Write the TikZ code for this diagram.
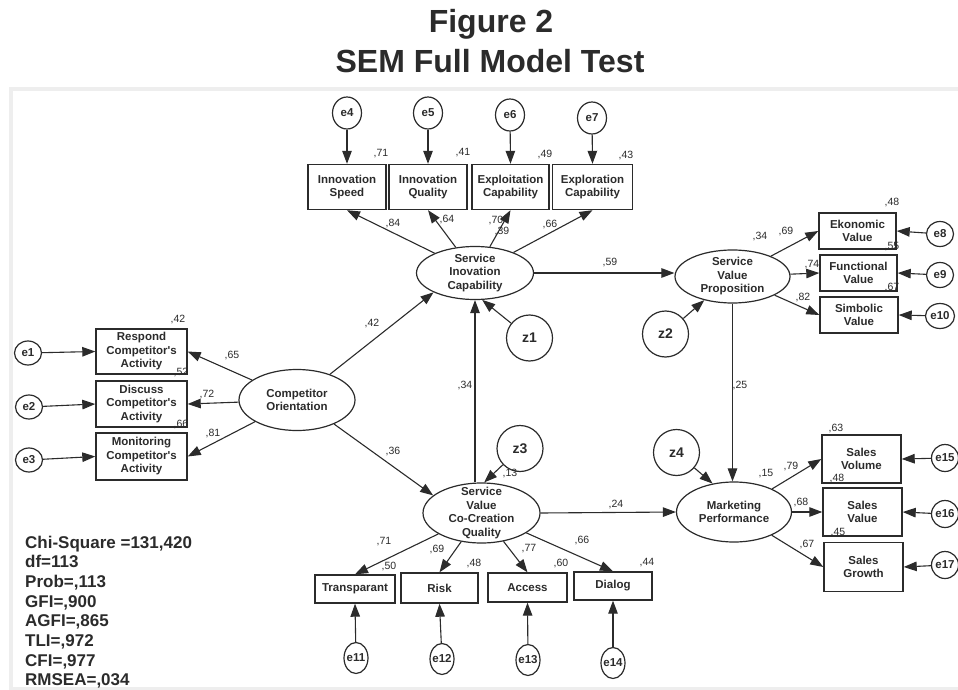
\documentclass[tikz,border=0pt]{standalone}
\usepackage{fontspec}
\setmainfont{Liberation Sans}
\usetikzlibrary{shapes.geometric,arrows.meta}

\definecolor{ink}{HTML}{2B2B2B}
\definecolor{frame}{HTML}{EEEEEE}

\tikzset{
  obs/.style={draw=ink, line width=1.4pt, rectangle, inner sep=0pt, align=center, text=ink,
    font=\fontsize{11.5}{13.5}\selectfont\bfseries},
  ltxt/.style={align=center, inner sep=0pt, text=ink, font=\fontsize{11.5}{13.5}\selectfont\bfseries},
  lat/.style={draw=ink, line width=1.2pt, ellipse, inner sep=0pt, label={[ltxt]center:#1}},
  err/.style={draw=ink, line width=1.2pt, ellipse, inner sep=0pt, minimum width=27pt, minimum height=25pt,
    label={[ltxt]center:#1}},
  dist/.style={draw=ink, line width=1.2pt, circle, minimum size=46pt, inner sep=0pt, text=ink,
    font=\fontsize{14}{16}\selectfont\bfseries},
  coef/.style={inner sep=0pt, text=ink, font=\fontsize{10.5}{12}\selectfont},
  arr/.style={ink, line width=1.1pt, -{Triangle[length=13pt,width=9.5pt]}},
}

\begin{document}
\begin{tikzpicture}[x=1pt, y=-1pt]
\useasboundingbox (0,0) rectangle (958,690);

\draw[frame, line width=4pt] (11,700) -- (11,89) -- (970,89);
\draw[frame, line width=3pt] (11,688.5) -- (970,688.5);

\node[anchor=base, font=\fontsize{32}{36}\selectfont\bfseries, text=ink] (fig) at (491,33) {Figure 2};
\node[anchor=base, font=\fontsize{32}{36}\selectfont\bfseries, text=ink] (title) at (490,73) {SEM Full Model Test};

% latent variables
\node[lat={Competitor\\Orientation}, minimum width=116pt, minimum height=61pt] (co) at (297,400) {};
\node[lat={Service\\Inovation\\Capability}, minimum width=117pt, minimum height=53pt] (sic) at (475,273) {};
\node[lat={Service\\Value\\Proposition}, minimum width=115pt, minimum height=53pt] (svp) at (732.5,276.5) {};
\node[lat={Service\\Value\\Co-Creation\\Quality}, minimum width=117pt, minimum height=60pt] (svq) at (481.5,513) {};
\node[lat={Marketing\\Performance}, minimum width=115pt, minimum height=60pt] (mp) at (734,512) {};

% indicators
\node[obs, minimum width=91pt, minimum height=45pt] (resp) at (141.5,351.5) {Respond\\Competitor\textquotesingle s\\Activity};
\node[obs, minimum width=91pt, minimum height=46pt] (disc) at (141.5,404) {Discuss\\Competitor\textquotesingle s\\Activity};
\node[obs, minimum width=91pt, minimum height=47pt] (mon) at (141.5,456.5) {Monitoring\\Competitor\textquotesingle s\\Activity};

\node[obs, minimum width=78pt, minimum height=45pt] (is) at (347,187) {Innovation\\Speed};
\node[obs, minimum width=78pt, minimum height=45pt] (iq) at (428,187) {Innovation\\Quality};
\node[obs, minimum width=77pt, minimum height=45pt] (ec) at (510.5,187) {Exploitation\\Capability};
\node[obs, minimum width=80pt, minimum height=45pt] (er) at (592.5,187) {Exploration\\Capability};

\node[obs, minimum width=77pt, minimum height=36pt] (eko) at (857.5,231) {Ekonomic\\Value};
\node[obs, minimum width=77pt, minimum height=36pt] (fun) at (858.5,273) {Functional\\Value};
\node[obs, minimum width=78pt, minimum height=36pt] (sim) at (859,315) {Simbolic\\Value};

\node[obs, minimum width=79pt, minimum height=48pt] (svol) at (861.5,459) {Sales\\Volume};
\node[obs, minimum width=79pt, minimum height=48pt] (sval) at (862.5,512) {Sales\\Value};
\node[obs, minimum width=79pt, minimum height=49pt] (sgr) at (863.5,567) {Sales\\Growth};

\node[obs, minimum width=80pt, minimum height=28pt] (tra) at (355,589) {Transparant};
\node[obs, minimum width=77pt, minimum height=30pt] (risk) at (439.5,588) {Risk};
\node[obs, minimum width=79pt, minimum height=29pt] (acc) at (527.5,587.5) {Access};
\node[obs, minimum width=78pt, minimum height=28pt] (dia) at (613,586) {Dialog};

% errors and disturbances
\node[err=e1, minimum height=24pt] (e1) at (28,353) {};
\node[err=e2, minimum height=24pt] (e2) at (29,407) {};
\node[err=e3, minimum height=24pt] (e3) at (29,460) {};
\node[err=e4, minimum width=29pt, minimum height=32pt] (e4) at (347,113) {};
\node[err=e5, minimum width=29pt, minimum height=32pt] (e5) at (428,113) {};
\node[err=e6, minimum width=29pt, minimum height=32pt] (e6) at (510,115) {};
\node[err=e7, minimum width=29pt, minimum height=32pt] (e7) at (592,118) {};
\node[err=e8] (e8) at (940,234) {};
\node[err=e9] (e9) at (940,275) {};
\node[err=e10, minimum width=29pt] (e10) at (940,316) {};
\node[err=e11, minimum width=24pt, minimum height=31pt] (e11) at (356,658) {};
\node[err=e12, minimum width=24pt, minimum height=31pt] (e12) at (442,659) {};
\node[err=e13, minimum width=24pt, minimum height=31pt] (e13) at (528,660) {};
\node[err=e14, minimum width=24pt, minimum height=31pt] (e14) at (613,663) {};
\node[err=e15, minimum height=27pt] (e15) at (945,458) {};
\node[err=e16, minimum height=27pt] (e16) at (945,514) {};
\node[err=e17, minimum height=27pt] (e17) at (945,565) {};

\node[dist] (z1) at (529.5,338) {z1};
\node[dist] (z2) at (665.5,334) {z2};
\node[dist] (z3) at (520,448.5) {z3};
\node[dist] (z4) at (676.5,452.5) {z4};

% paths
\draw[arr] (e1) -- (resp.west);
\draw[arr] (e2) -- (disc.west);
\draw[arr] (e3) -- (mon.west);
\draw[arr] (co) -- (resp.east);
\draw[arr] (co) -- (disc.east);
\draw[arr] (co) -- (mon.east);

\draw[arr] (e4) -- (is.north);
\draw[arr] (e5) -- (iq.north);
\draw[arr] (e6) -- (ec.north);
\draw[arr] (e7) -- (er.north);
\draw[arr] (sic) -- (is.south);
\draw[arr] (sic) -- (iq.south);
\draw[arr] (sic) -- (ec.south);
\draw[arr] (sic) -- (er.south);

\draw[arr] (e8) -- (eko.east);
\draw[arr] (e9) -- (fun.east);
\draw[arr] (e10) -- (sim.east);
\draw[arr] (svp) -- (eko.west);
\draw[arr] (svp) -- (fun.west);
\draw[arr] (svp) -- (sim.west);

\draw[arr] (e15) -- (svol.east);
\draw[arr] (e16) -- (sval.east);
\draw[arr] (e17) -- (sgr.east);
\draw[arr] (mp) -- (svol.west);
\draw[arr] (mp) -- (sval.west);
\draw[arr] (mp) -- (sgr.west);

\draw[arr] (e11) -- (tra.south);
\draw[arr] (e12) -- (risk.south);
\draw[arr] (e13) -- (acc.south);
\draw[arr] (e14) -- (dia.south);
\draw[arr] (svq) -- (tra.north);
\draw[arr] (svq) -- (risk.north);
\draw[arr] (svq) -- (acc.north);
\draw[arr] (svq) -- (dia.north);

\draw[arr] (co.38) -- (sic.205);
\draw[arr] (co.-33) -- (svq.160);
\draw[arr] (svq.north -| sic.south) -- (sic.south);
\draw[arr] (sic.east) -- (sic.east -| svp.west);
\draw[arr] (svq.east) -- (mp.west);
\draw[arr] (svp.south) -- (svp.south |- mp.north);
\draw[arr] (z1) -- (sic.-75);
\draw[arr] (z2) -- (svp.220);
\draw[arr] (z3) -- (svq.85);
\draw[arr] (z4) -- (mp.127);

% estimates
\node[coef] (r-is) at (381,154) {,71};
\node[coef] (r-iq) at (463,153) {,41};
\node[coef] (r-ec) at (545,155) {,49};
\node[coef] (r-er) at (626,156) {,43};
\node[coef] (l-is) at (393,224) {,84};
\node[coef] (l-iq) at (447,220) {,64};
\node[coef] (l-ec) at (496,221) {,70};
\node[coef] (r-sic) at (502,232) {,39};
\node[coef] (l-er) at (550,225) {,66};

\node[coef] (r-resp) at (178,320) {,42};
\node[coef] (r-disc) at (181,373) {,52};
\node[coef] (r-mon) at (181,425) {,66};
\node[coef] (l-resp) at (232,356) {,65};
\node[coef] (l-disc) at (207,395) {,72};
\node[coef] (l-mon) at (213,434) {,81};

\node[coef] (b-co-sic) at (372,324) {,42};
\node[coef] (b-co-svq) at (393,452) {,36};
\node[coef] (b-svq-sic) at (465,386) {,34};
\node[coef] (b-sic-svp) at (610,263) {,59};
\node[coef] (b-svp-mp) at (740,386) {,25};
\node[coef] (b-svq-mp) at (616,505) {,24};
\node[coef] (r-svq) at (510,474) {,13};

\node[coef] (r-svp) at (760,237) {,34};
\node[coef] (l-eko) at (786,232) {,69};
\node[coef] (l-fun) at (812,265) {,74};
\node[coef] (l-sim) at (803,298) {,82};
\node[coef] (r-eko) at (892,203) {,48};
\node[coef] (r-fun) at (892,247) {,55};
\node[coef] (r-sim) at (892,288) {,67};

\node[coef] (r-mp) at (766,474) {,15};
\node[coef] (l-svol) at (791,467) {,79};
\node[coef] (l-sval) at (801,503) {,68};
\node[coef] (l-sgr) at (807,545) {,67};
\node[coef] (r-svol) at (836,429) {,63};
\node[coef] (r-sval) at (837,479) {,48};
\node[coef] (r-sgr) at (838,533) {,45};

\node[coef] (l-tra) at (384,542) {,71};
\node[coef] (l-risk) at (437,550) {,69};
\node[coef] (l-acc) at (529,549) {,77};
\node[coef] (l-dia) at (582,541) {,66};
\node[coef] (r-tra) at (389,566) {,50};
\node[coef] (r-risk) at (474,564) {,48};
\node[coef] (r-acc) at (561,563) {,60};
\node[coef] (r-dia) at (647,563) {,44};

% fit
\node[anchor=north west, align=left, inner sep=0pt, text=ink, font=\fontsize{17}{19.7}\selectfont\bfseries] (fit) at (25,535.5)
  {Chi-Square =131,420\\df=113\\Prob=,113\\GFI=,900\\AGFI=,865\\TLI=,972\\CFI=,977\\RMSEA=,034};

\end{tikzpicture}
\end{document}
